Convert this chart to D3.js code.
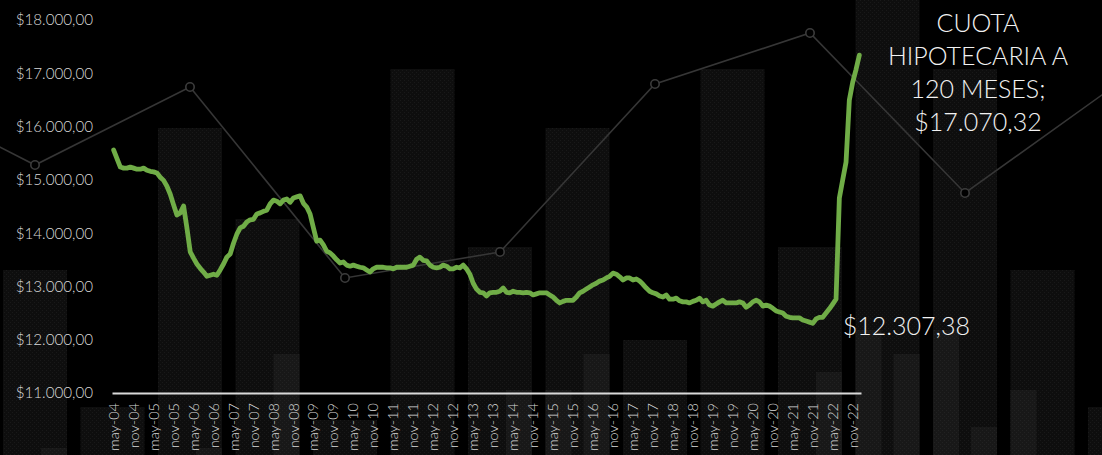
<!DOCTYPE html>
<html><head><meta charset="utf-8">
<script src="https://cdn.jsdelivr.net/npm/d3@7"></script>
<style>html,body{margin:0;padding:0;background:#000;overflow:hidden}</style>
</head><body>
<svg id="c" width="1102" height="455"></svg>
<script>
// Mortgage instalment (120 months), monthly from may-04 to ene-23
const values = [
15560,15400,15240,15220,15220,15240,15220,15200,15200,15220,15180,15160,
15150,15130,15050,14990,14880,14730,14530,14340,14380,14510,14100,13650,
13530,13420,13340,13270,13190,13210,13230,13210,13310,13420,13550,13610,
13810,13980,14100,14130,14210,14250,14260,14360,14380,14410,14430,14550,
14620,14600,14550,14620,14640,14580,14660,14680,14700,14560,14490,14360,
14100,13850,13870,13780,13660,13630,13570,13500,13440,13460,13400,13380,
13400,13380,13360,13350,13310,13270,13330,13360,13360,13360,13350,13350,
13330,13360,13360,13360,13360,13380,13400,13510,13550,13490,13480,13400,
13360,13350,13360,13400,13380,13330,13330,13360,13350,13400,13330,13230,
13060,12950,12890,12880,12820,12880,12890,12890,12910,12970,12890,12880,
12910,12890,12890,12880,12890,12880,12840,12860,12880,12880,12880,12840,
12800,12740,12690,12720,12740,12740,12740,12800,12880,12910,12950,12990,
13030,13060,13100,13120,13160,13190,13250,13230,13180,13120,13160,13160,
13120,13140,13100,13040,12970,12910,12880,12860,12820,12800,12840,12760,
12760,12780,12730,12710,12710,12690,12720,12740,12780,12710,12740,12650,
12630,12670,12710,12740,12690,12690,12690,12690,12710,12690,12610,12650,
12710,12740,12710,12630,12650,12630,12590,12540,12520,12500,12440,12420,
12410,12410,12410,12370,12350,12330,12307.38,12390,12420,12420,12500,12580,
12670,12760,14660,15000,15330,16500,16830,17070.32,17340
];
const monthAbbr = ["ene","feb","mar","abr","may","jun","jul","ago","sep","oct","nov","dic"];
const categories = values.map((v,i)=>{const t=4+i;return monthAbbr[t%12]+"-"+String(4+Math.floor(t/12)).padStart(2,"0");});
const tickLabels = ["may-04","nov-04","may-05","nov-05","may-06","nov-06","may-07","nov-07","may-08","nov-08",
"may-09","nov-09","may-10","nov-10","may-11","nov-11","may-12","nov-12","may-13","nov-13","may-14","nov-14",
"may-15","nov-15","may-16","nov-16","may-17","nov-17","may-18","nov-18","may-19","nov-19","may-20","nov-20",
"may-21","nov-21","may-22","nov-22"];
const yTicks = [11000,12000,13000,14000,15000,16000,17000,18000];
const minLabel = "$12.307,38";
const minCategory = "nov-21";
const titleLines = ["CUOTA","HIPOTECARIA A","120 MESES;","$17.070,32"];
const titleCategory = "dic-22";

// decorative background (theme) levels
const decoBarLevels = [185,48,327,236,35,386,208,327,115,386,208,455,386,185,48];
const decoSubBars = [[0,1,7],[2,1,7],[3,1,101],[6,1,65],[7,0,65],[7,1,101],[10,1,83],[11,0,125],[11,1,101],[12,0,125],[12,1,28],[13,0,65]];
const decoLineLevels = [369,290,368,177,203,371,422,262,373];

const W=1102,H=455;
const svg = d3.select("#c");
const defs = svg.append("defs");
function pat(id,bg,dot){
  const p=defs.append("pattern").attr("id",id).attr("width",4).attr("height",4).attr("patternUnits","userSpaceOnUse");
  p.append("rect").attr("width",4).attr("height",4).attr("fill",bg);
  p.append("rect").attr("x",0).attr("y",0).attr("width",1).attr("height",1).attr("fill",dot);
  p.append("rect").attr("x",2).attr("y",2).attr("width",1).attr("height",1).attr("fill",dot);
}
pat("pBig","#0e0e0e","#191919");
pat("pSmall","#181818","#222222");

svg.append("rect").attr("width",W).attr("height",H).attr("fill","#000");

// deco scales
const dx = d3.scaleLinear().domain([0,1]).range([3,80.5]);
const dy = d3.scaleLinear().domain([0,H]).range([H,0]);
svg.append("g").selectAll("rect").data(decoBarLevels).join("rect")
  .attr("x",(d,i)=>dx(i)).attr("width",64).attr("y",d=>dy(d)).attr("height",d=>H-dy(d))
  .attr("fill","url(#pBig)");
svg.append("g").selectAll("rect").data(decoSubBars).join("rect")
  .attr("x",d=>dx(d[0])+d[1]*38).attr("width",26).attr("y",d=>dy(d[2])).attr("height",d=>H-dy(d[2]))
  .attr("fill","url(#pSmall)");
const lx = d3.scaleLinear().domain([0,1]).range([-120,35]);
const decoPts = decoLineLevels.map((v,i)=>[lx(i),dy(v)]);
svg.append("path").attr("d",d3.line()(decoPts)).attr("fill","none").attr("stroke","#363636").attr("stroke-width",1.6);
svg.append("g").selectAll("circle").data(decoPts).join("circle")
  .attr("cx",d=>d[0]).attr("cy",d=>d[1]).attr("r",4.2)
  .attr("fill","#000").attr("stroke","#3c3c3c").attr("stroke-width",1.6);

// chart scales
const x = d3.scaleBand().domain(categories).range([112,861]).padding(0);
const cx = c=>x(c)+x.bandwidth()/2;
const y = d3.scaleLinear().domain([11000,18000]).range([393,20]);
const loc = d3.formatLocale({decimal:",",thousands:".",grouping:[3],currency:["$",""]});
const font = "Lato, 'Open Sans', sans-serif";

const ya = svg.append("g").attr("transform","translate(93,0)")
  .call(d3.axisLeft(y).tickValues(yTicks).tickSize(0).tickPadding(0).tickFormat(loc.format("$,.2f")));
ya.select(".domain").remove();
ya.selectAll("text").attr("fill","#d9d9d9").attr("font-family",font).attr("font-size","15.2px").attr("font-weight",300);

const xa = svg.append("g").attr("transform","translate(0,393)")
  .call(d3.axisBottom(x).tickValues(tickLabels).tickSize(0).tickSizeOuter(0));
xa.select(".domain").attr("stroke","#d9d9d9").attr("stroke-width",2);
xa.selectAll("text").attr("fill","#d9d9d9").attr("font-family",font).attr("font-size","14.5px").attr("font-weight",300)
  .attr("transform","rotate(-90)").attr("x",-10).attr("y",0).attr("dy","0.35em").attr("text-anchor","end");

// main line
svg.append("path").datum(values)
  .attr("d",d3.line().x((d,i)=>cx(categories[i])).y(d=>y(d)))
  .attr("fill","none").attr("stroke","#70ad47").attr("stroke-width",4.8)
  .attr("stroke-linejoin","round").attr("stroke-linecap","round");

// labels
const mi = categories.indexOf(minCategory);
svg.append("text").attr("x",cx(minCategory)+30).attr("y",y(values[mi])+3).attr("dy","0.35em")
  .attr("fill","#f2f2f2").attr("font-family",font).attr("font-size","25px").attr("font-weight",300).text(minLabel);
const ti = categories.indexOf(titleCategory);
svg.append("g").selectAll("text").data(titleLines).join("text")
  .attr("x",cx(titleCategory)+122).attr("y",(d,i)=>y(values[ti])-46+i*33).attr("dy","0.35em")
  .attr("text-anchor","middle").attr("fill","#f2f2f2").attr("font-family",font).attr("font-size","25px").attr("font-weight",300)
  .text(d=>d);
</script>
</body></html>
